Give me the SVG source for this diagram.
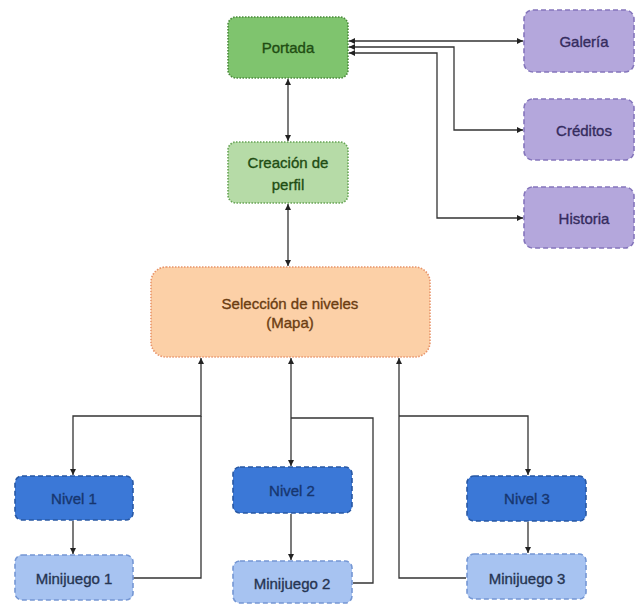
<svg xmlns="http://www.w3.org/2000/svg" width="636" height="604" viewBox="0 0 636 604">
<style>
text{font-family:"Liberation Sans",Arial,sans-serif;font-size:15px;text-anchor:middle;dominant-baseline:central;stroke-width:0.35}
.portada{fill:#7fc46e;stroke:#4a8a3a;stroke-width:1.6;stroke-dasharray:1.5 1.5}
.perfil{fill:#b6dba7;stroke:#66a454;stroke-width:1.6;stroke-dasharray:1.5 1.5}
.sel{fill:#fcd0a7;stroke:#e8946a;stroke-width:1.6;stroke-dasharray:1.5 1.5}
.purp{fill:#b4a7dc;stroke:#8576bc;stroke-width:1.6;stroke-dasharray:5 3}
.niv{fill:#3b78d7;stroke:#2858a4;stroke-width:1.6;stroke-dasharray:5 3}
.mini{fill:#a7c3f1;stroke:#7597d4;stroke-width:1.6;stroke-dasharray:5 3}
.tg{fill:#1f4d13;stroke:#1f4d13}
.tp{fill:#352c5e;stroke:#352c5e}
.ts{fill:#6b3d12;stroke:#6b3d12}
.tn{fill:#17366f;stroke:#17366f}
.tm{fill:#263552;stroke:#263552}
.c{fill:none;stroke:#333;stroke-width:1.3}
</style>
<defs>
<marker id="ah" viewBox="0 0 10 10" refX="10" refY="5" markerWidth="6" markerHeight="6" orient="auto-start-reverse" markerUnits="userSpaceOnUse">
<path d="M0,0 L10,5 L0,10 z" fill="#222"/>
</marker>
</defs>
<rect width="636" height="604" fill="#fff"/>
<g id="connectors">
<path class="c" d="M349,41 H523" marker-start="url(#ah)" marker-end="url(#ah)"/>
<path class="c" d="M349,47 H454 V130 H523" marker-start="url(#ah)" marker-end="url(#ah)"/>
<path class="c" d="M349,53 H437 V218 H523" marker-start="url(#ah)" marker-end="url(#ah)"/>
<path class="c" d="M288,79 V141" marker-start="url(#ah)" marker-end="url(#ah)"/>
<path class="c" d="M288,204 V266" marker-start="url(#ah)" marker-end="url(#ah)"/>
<path class="c" d="M201,358 V416 H73 V475" marker-start="url(#ah)" marker-end="url(#ah)"/>
<path class="c" d="M133,578 H201 V416"/>
<path class="c" d="M73,521 V554" marker-end="url(#ah)"/>
<path class="c" d="M291,358 V466" marker-start="url(#ah)" marker-end="url(#ah)"/>
<path class="c" d="M291,418 H373 V583 H353"/>
<path class="c" d="M291,514 V560" marker-end="url(#ah)"/>
<path class="c" d="M399,358 V578 H466" marker-start="url(#ah)"/>
<path class="c" d="M399,416 H528 V475" marker-end="url(#ah)"/>
<path class="c" d="M528,522 V553" marker-end="url(#ah)"/>
</g>
<g id="portada"><rect class="portada" x="228" y="17" width="120" height="61" rx="8"/><text class="tg" x="288" y="47">Portada</text></g>
<g id="perfil"><rect class="perfil" x="228" y="142" width="120" height="61" rx="8"/><text class="tg" x="288" y="162">Creación de</text><text class="tg" x="288" y="184">perfil</text></g>
<g id="galeria"><rect class="purp" x="524" y="10" width="110" height="62" rx="9"/><text class="tp" x="584" y="41">Galería</text></g>
<g id="creditos"><rect class="purp" x="524" y="99" width="110" height="61" rx="9"/><text class="tp" x="584" y="130">Créditos</text></g>
<g id="historia"><rect class="purp" x="524" y="187" width="110" height="61" rx="9"/><text class="tp" x="584" y="218">Historia</text></g>
<g id="seleccion"><rect class="sel" x="151" y="267" width="279" height="90" rx="15"/><text class="ts" x="290" y="303">Selección de niveles</text><text class="ts" x="290" y="322">(Mapa)</text></g>
<g id="nivel1"><rect class="niv" x="15" y="476" width="118" height="44" rx="7"/><text class="tn" x="74" y="498">Nivel 1</text></g>
<g id="nivel2"><rect class="niv" x="233" y="467" width="119" height="46" rx="7"/><text class="tn" x="292" y="490">Nivel 2</text></g>
<g id="nivel3"><rect class="niv" x="467" y="476" width="119" height="45" rx="7"/><text class="tn" x="527" y="498">Nivel 3</text></g>
<g id="minijuego1"><rect class="mini" x="15" y="555" width="118" height="45" rx="7"/><text class="tm" x="74" y="578">Minijuego 1</text></g>
<g id="minijuego2"><rect class="mini" x="233" y="561" width="119" height="42" rx="7"/><text class="tm" x="292" y="583">Minijuego 2</text></g>
<g id="minijuego3"><rect class="mini" x="467" y="554" width="119" height="45" rx="7"/><text class="tm" x="527" y="578">Minijuego 3</text></g>
</svg>
